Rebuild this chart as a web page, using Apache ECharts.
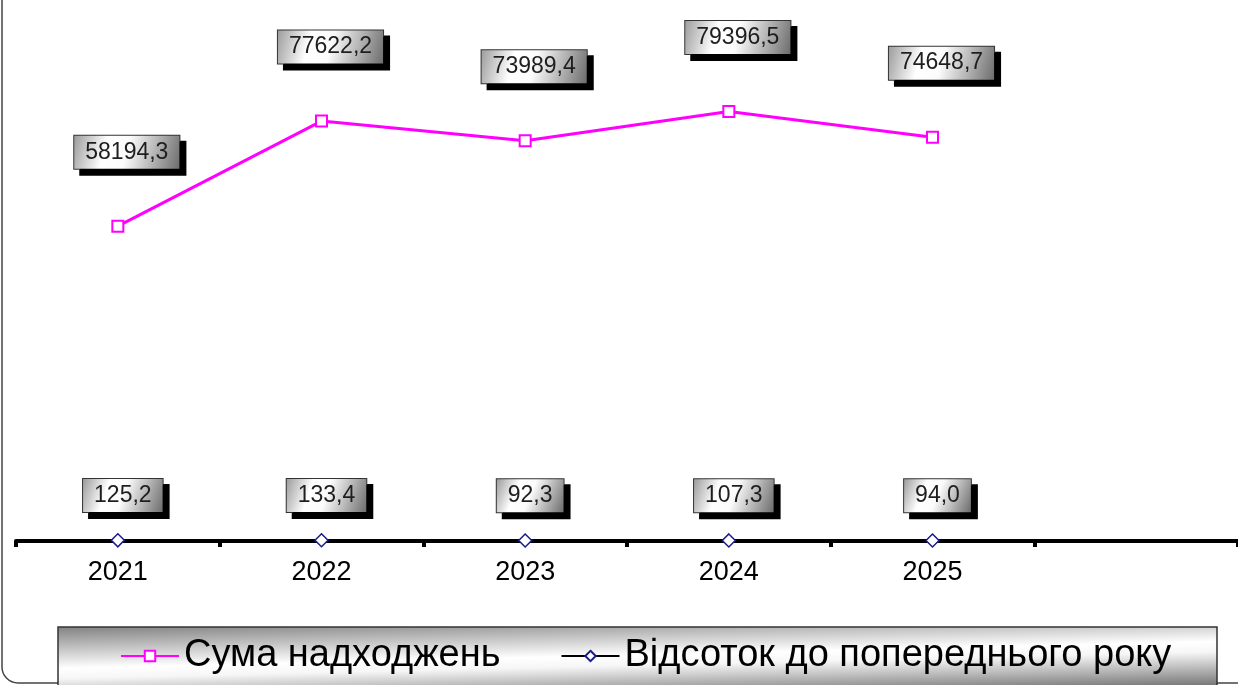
<!DOCTYPE html>
<html lang="uk" style="height: 100%">
<head>
    <meta charset="utf-8"/>
    <meta name="viewport" content="width=device-width, initial-scale=1.0"/>
</head>
<body style="height: 100%; margin: 0; overflow: hidden; background: #fff">
<div id="container" style="height: 100%"></div>

<script type="text/javascript" src="https://cdn.jsdelivr.net/npm/echarts@6/dist/echarts.min.js"></script>

<script type="text/javascript">
    // дані з діаграми
    var years = ["2021", "2022", "2023", "2024", "2025", ""];
    var sumValues = [58194.3, 77622.2, 73989.4, 79396.5, 74648.7];
    var pctValues = [125.2, 133.4, 92.3, 107.3, 94.0];
    var seriesNames = ["Сума надходжень", "Відсоток до попереднього року"];

    var dom = document.getElementById("container");
    var myChart = echarts.init(dom, null, {renderer: "canvas"});

    function fmt(v) {
        return v.toFixed(1).replace(".", ",");
    }

    // сіра «металева» заливка підписів
    var boxFill = {
        type: "linear", x: 0, y: 0.1, x2: 1, y2: 0.9,
        colorStops: [
            {offset: 0, color: "#9c9c9c"},
            {offset: 0.3, color: "#ffffff"},
            {offset: 0.5, color: "#fbfbfb"},
            {offset: 1, color: "#6c6c6c"}
        ]
    };

    function boxLabel(distance, dx) {
        return {
            show: true,
            position: "top",
            distance: distance,
            offset: [dx, 0],
            formatter: function (p) { return fmt(p.value); },
            fontFamily: "Liberation Sans, Arial, sans-serif",
            fontSize: 23,
            lineHeight: 23,
            color: "#1e1e1e",
            backgroundColor: boxFill,
            borderColor: "#333",
            borderWidth: 1,
            padding: [5, 11, 5, 11],
            shadowColor: "#000",
            shadowOffsetX: 6,
            shadowOffsetY: 6,
            shadowBlur: 0
        };
    }

    var option = {
        animation: false,
        grid: {left: 16, right: -4, top: -3, bottom: 144},
        xAxis: {
            type: "category",
            data: years,
            boundaryGap: true,
            z: 3,
            axisLine: {lineStyle: {color: "#000", width: 4}},
            axisTick: {show: true, length: 6, lineStyle: {color: "#000", width: 4}},
            axisLabel: {
                color: "#000",
                fontSize: 27,
                fontFamily: "Liberation Sans, Arial, sans-serif",
                margin: 18
            }
        },
        yAxis: {
            type: "value",
            min: 0,
            max: 100000,
            show: false,
            splitLine: {show: false}
        },
        legend: {
            left: 120,
            top: 637,
            padding: 0,
            itemWidth: 58,
            itemHeight: 13,
            itemGap: 60,
            textStyle: {
                color: "#000",
                fontSize: 38,
                fontFamily: "Liberation Sans, Arial, sans-serif"
            },
            data: seriesNames
        },
        graphic: [
            {
                // рамка слайда
                type: "rect",
                z: -10,
                shape: {x: 2, y: -30, width: 1400, height: 713, r: 16},
                style: {fill: "none", stroke: "#444", lineWidth: 1.5}
            },
            {
                // підкладка легенди
                type: "rect",
                z: -5,
                shape: {x: 58, y: 627, width: 1159, height: 80},
                style: {
                    fill: {
                        type: "linear", global: true,
                        x: 636, y: 612, x2: 638, y2: 698,
                        colorStops: [
                            {offset: 0, color: "#7e7e7e"},
                            {offset: 0.5, color: "#ffffff"},
                            {offset: 0.62, color: "#f6f6f6"},
                            {offset: 1, color: "#7a7a7a"}
                        ]
                    },
                    stroke: "#333",
                    lineWidth: 1.5
                }
            }
        ],
        series: [
            {
                name: seriesNames[0],
                type: "line",
                data: sumValues,
                symbol: "rect",
                symbolSize: 11,
                itemStyle: {color: "#fff", borderColor: "#ff00ff", borderWidth: 2},
                lineStyle: {color: "#ff00ff", width: 3},
                label: boxLabel(51, 9)
            },
            {
                name: seriesNames[1],
                type: "line",
                data: pctValues,
                symbol: "diamond",
                symbolSize: 13,
                itemStyle: {color: "#fff", borderColor: "#1a1a8c", borderWidth: 1.5},
                lineStyle: {color: "#000", width: 2},
                label: boxLabel(21, 5)
            }
        ]
    };

    myChart.setOption(option);
    window.addEventListener("resize", myChart.resize);
</script>
</body>
</html>
